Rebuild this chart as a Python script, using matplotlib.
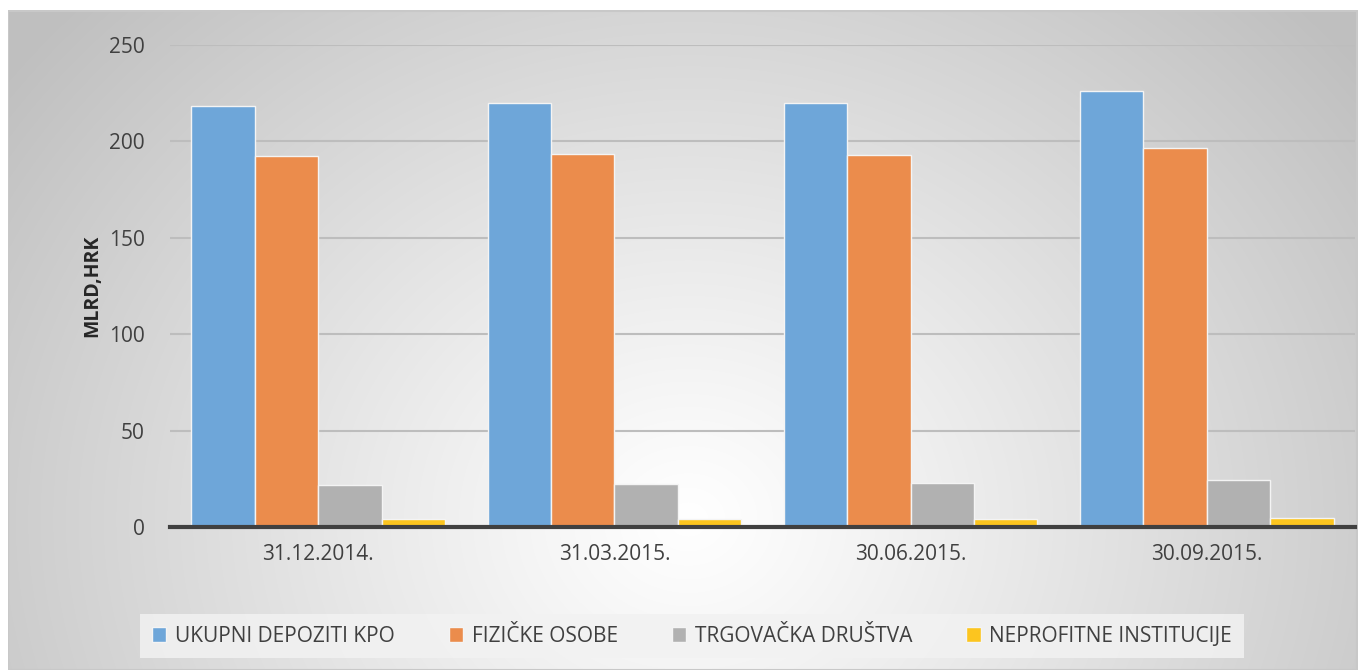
import numpy as np
import matplotlib.pyplot as plt
from matplotlib.patches import Patch

dates = ['31.12.2014.', '31.03.2015.', '30.06.2015.', '30.09.2015.']
series = ['UKUPNI DEPOZITI KPO', 'FIZIČKE OSOBE', 'TRGOVAČKA DRUŠTVA', 'NEPROFITNE INSTITUCIJE']
ukupni = [218.5, 220.0, 220.0, 226.0]
fizicke = [192.5, 193.5, 193.0, 196.5]
trgovacka = [22.0, 22.5, 23.0, 24.5]
neprofitne = [4.0, 4.0, 4.0, 4.5]
colors = ['#6ea6d9', '#eb8c4c', '#b1b1b1', '#fcc51f']

plt.rcParams['font.family'] = ['Open Sans', 'DejaVu Sans']

fig = plt.figure(figsize=(13.58, 6.70), dpi=100)

# radial grey-to-white background
bg = fig.add_axes([8/1358, 0, 1350/1358, 660/670])
W, H = 1350, 660
xx, yy = np.meshgrid(np.arange(W), np.arange(H))
cx, cy = 680, 150
d = np.sqrt((xx - cx) ** 2 + ((yy - cy) * 1.15) ** 2)
d = d / d.max()
shade = 1.0 - 0.25 * np.clip(d * 1.05, 0, 1) ** 1.1
bg.imshow(np.dstack([shade] * 3), origin='lower', aspect='auto', extent=[0, W, 0, H])
bg.set_axis_off()
bg.add_patch(plt.Rectangle((0, 0), W - 1, H - 1, fill=False, edgecolor='#c8c8c8', lw=1.5))

ax = fig.add_axes([170/1358, (670-527)/670, (1355-170)/1358, (527-45)/670])
ax.patch.set_alpha(0)

x = np.arange(len(dates))
w = 0.214
for i, (vals, name) in enumerate(zip([ukupni, fizicke, trgovacka, neprofitne], series)):
    ax.bar(x + (i - 1.5) * w, vals, w, color=colors[i], edgecolor='#f4f4f4', linewidth=1, label=name, zorder=3)

ax.set_xlim(-0.5, len(dates) - 0.5)
ax.set_ylim(0, 250)
ax.set_yticks(range(0, 251, 50))
ax.yaxis.grid(True, color='#bdbdbd', lw=1.5, zorder=0)
ax.set_axisbelow(True)
for s in ['top', 'right', 'left']:
    ax.spines[s].set_visible(False)
ax.spines['bottom'].set_color('#404040')
ax.spines['bottom'].set_linewidth(3)
ax.spines['bottom'].set_zorder(4)
ax.tick_params(axis='both', length=0, labelsize=15, colors='#404040', pad=12)
ax.tick_params(axis='y', pad=18)
ax.set_xticks(x)
ax.set_xticklabels(dates)
ax.set_ylabel('MLRD,HRK', fontsize=14, fontweight='bold', color='#262626', labelpad=5)

handles = [Patch(facecolor=c, edgecolor='#f4f4f4') for c in colors]
leg = fig.legend(handles, series, loc='center', bbox_to_anchor=(692/1358, 1 - 636/670), ncol=4,
                 fontsize=15, frameon=True, fancybox=False, handlelength=0.7, handleheight=0.7,
                 handletextpad=0.4, columnspacing=2.6, borderpad=0.55, borderaxespad=0,
                 labelcolor='#404040')
leg.get_frame().set_facecolor('#f2f2f2')
leg.get_frame().set_edgecolor('none')
leg.get_frame().set_alpha(0.85)

fig.savefig('out.png', dpi=100)
